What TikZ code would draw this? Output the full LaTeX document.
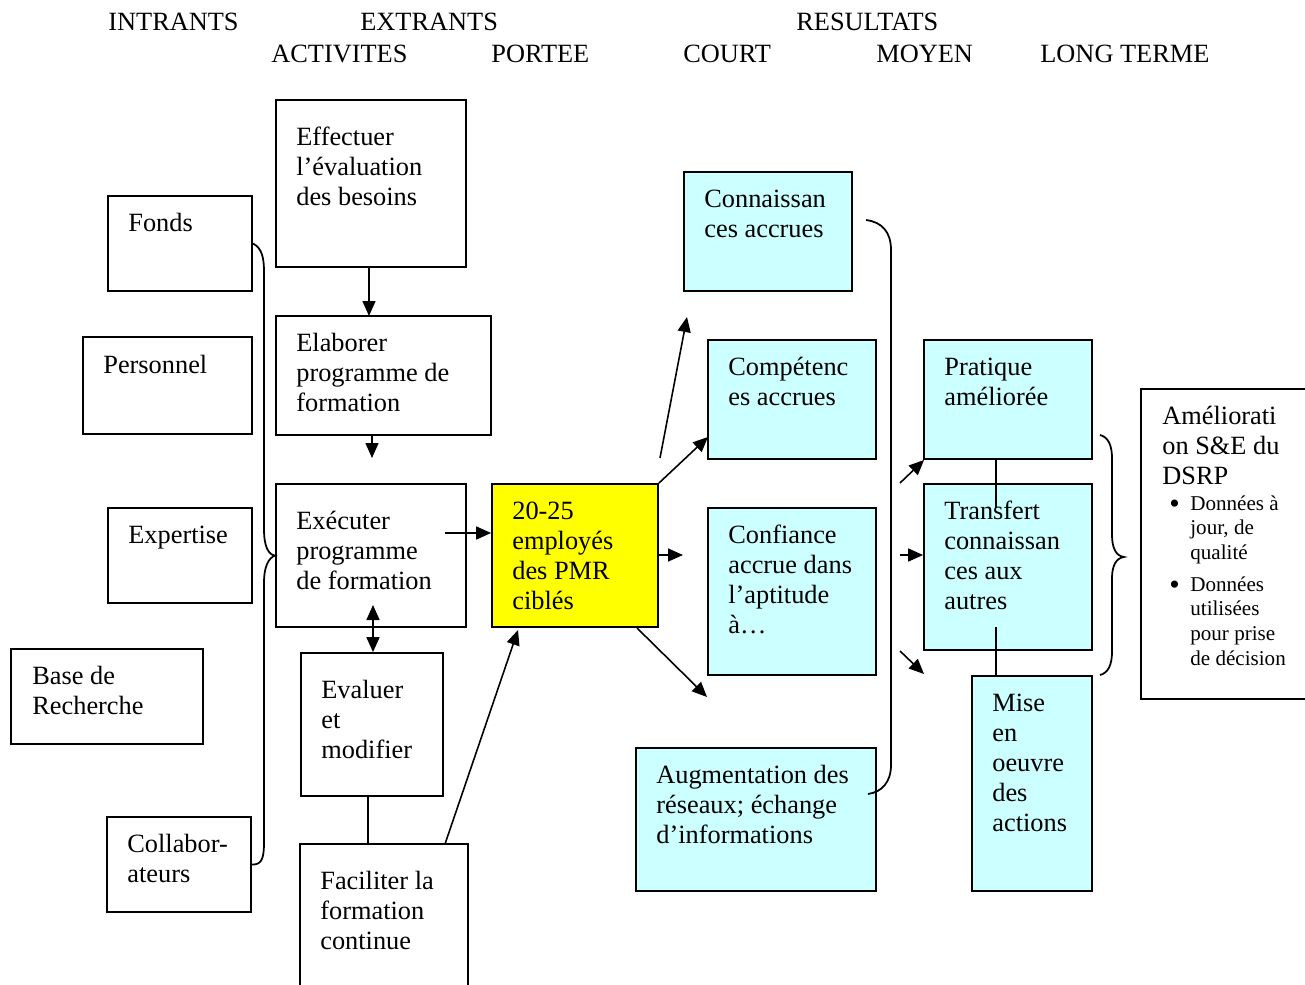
\documentclass[tikz,border=0pt]{standalone}
\usepackage{fontspec}
\setmainfont{Liberation Serif}
\usetikzlibrary{arrows.meta,fit}
\definecolor{paleblue}{HTML}{CCFFFF}
\definecolor{brightyellow}{HTML}{FFFF00}
\newcommand{\txtlines}[1]{\begin{tabular}[t]{@{}l@{}}#1\end{tabular}}
\tikzset{
  box/.style={draw=black,line width=1pt,inner sep=0pt,rectangle},
  res/.style={box,fill=paleblue},
  txt/.style={anchor=base west,inner sep=0pt,font=\fontsize{15}{17.2}\selectfont},
  small/.style={anchor=base west,inner sep=0pt,font=\fontsize{12}{14.2}\selectfont},
  arr/.style={-{Triangle[length=0.3cm,width=0.26cm]},line width=0.9pt},
  arrs/.style={{Triangle[length=0.3cm,width=0.26cm]}-{Triangle[length=0.3cm,width=0.26cm]},line width=0.9pt},
  brace/.style={line width=1pt},
}
\begin{document}
\begin{tikzpicture}[x=0.02cm,y=-0.02cm]
\useasboundingbox (0,0) rectangle (1305,984);
\clip (0,0) rectangle (1305,984);
% en-tetes
\node (hIntr) [txt] at (108,30) {INTRANTS};
\node (hExtr) [txt] at (360,30) {EXTRANTS};
\node (hRes) [txt] at (796,30) {RESULTATS};
\node (hAct) [txt] at (271,62) {ACTIVITES};
\node (hPort) [txt] at (491,62) {PORTEE};
\node (hCourt) [txt] at (683,62) {COURT};
\node (hMoyen) [txt] at (876,62) {MOYEN};
\node (hLong) [txt] at (1040,62) {LONG TERME};
%
% intrants
\node (fonds) [box,fit={(108,196) (252,291)}] {};
\node (personnel) [box,fit={(83,337) (252,434)}] {};
\node (expertise) [box,fit={(108,508) (252,603)}] {};
\node (base) [box,fit={(11,649) (203,744)}] {};
\node (collab) [box,fit={(107,817) (251,912)}] {};
\node (fondsT) [txt] at (128,231) {Fonds};
\node (personnelT) [txt] at (103,373) {Personnel};
\node (expertiseT) [txt] at (128,543) {Expertise};
\node (baseT) [txt] at (32,684) {\txtlines{Base de\\Recherche}};
\node (collabT) [txt] at (127,852) {\txtlines{Collabor-\\ateurs}};
%
% activites
\node (effectuer) [box,fit={(276,100) (466,267)}] {};
\node (elaborer) [box,fit={(276,316) (491,435)}] {};
\node (executer) [box,fit={(276,484) (466,627)}] {};
\node (evaluer) [box,fit={(301,653) (443,796)}] {};
\node (faciliter) [box,fit={(300,844) (468,1010)}] {};
\node (effectuerT) [txt] at (296,145) {\txtlines{Effectuer\\l’évaluation\\des besoins}};
\node (elaborerT) [txt] at (296,351) {\txtlines{Elaborer\\programme de\\formation}};
\node (executerT) [txt] at (296,529) {\txtlines{Exécuter\\programme\\de formation}};
\node (evaluerT) [txt] at (321,698) {\txtlines{Evaluer\\et\\modifier}};
\node (faciliterT) [txt] at (320,889) {\txtlines{Faciliter la\\formation\\continue}};
%
% portee
\node (cible) [box,fill=brightyellow,fit={(492,484) (658,627)}] {};
\node (cibleT) [txt] at (512,519) {\txtlines{20-25\\employés\\des PMR\\ciblés}};
%
% resultats court terme
\node (connais) [res,fit={(684,172) (852,291)}] {};
\node (compet) [res,fit={(708,340) (876,459)}] {};
\node (confiance) [res,fit={(708,508) (876,675)}] {};
\node (reseaux) [res,fit={(636,748) (876,891)}] {};
\node (connaisT) [txt] at (704,207) {\txtlines{Connaissan\\ces accrues}};
\node (competT) [txt] at (728,375) {\txtlines{Compétenc\\es accrues}};
\node (confianceT) [txt] at (728,543) {\txtlines{Confiance\\accrue dans\\l’aptitude\\à…}};
\node (reseauxT) [txt] at (656,783) {\txtlines{Augmentation des\\réseaux; échange\\d’informations}};
%
% resultats moyen terme
\node (pratique) [res,fit={(924,340) (1092,459)}] {};
\node (transfert) [res,fit={(924,484) (1092,650)}] {};
\node (mise) [res,fit={(972,676) (1092,891)}] {};
\node (pratiqueT) [txt] at (944,375) {\txtlines{Pratique\\améliorée}};
\node (transfertT) [txt] at (944,519) {\txtlines{Transfert\\connaissan\\ces aux\\autres}};
\node (miseT) [txt] at (992,711) {\txtlines{Mise\\en\\oeuvre\\des\\actions}};
%
% long terme
\node (amelio) [box,fit={(1141,389) (1330,699)}] {};
\node (amelioT) [txt] at (1162,424) {\txtlines{Améliorati\\on S\&E du\\DSRP}};
\node (dot1) [small,font=\fontsize{17}{17}\selectfont] at (1169,513) {•};
\node (item1) [small] at (1190,510) {\txtlines{Données à\\jour, de\\qualité}};
\node (dot2) [small,font=\fontsize{17}{17}\selectfont] at (1169,594) {•};
\node (item2) [small] at (1190,591) {\txtlines{Données\\utilisées\\pour prise\\de décision}};
%
% connecteurs
\coordinate (e1) at (372,458);
\coordinate (e2) at (373,605);
\coordinate (x1) at (445,533);
\coordinate (f1) at (445,844);
\coordinate (c1) at (518,630);
\coordinate (u0) at (660,458);
\coordinate (u1) at (687,317);
\coordinate (k1) at (708,437);
\coordinate (r1) at (683,555);
\coordinate (d0) at (637,628);
\coordinate (d1) at (707,697);
\coordinate (m0) at (900,483);
\coordinate (m1) at (924,460);
\coordinate (m2) at (900,555);
\coordinate (m3) at (900,651);
\coordinate (m4) at (924,674);
\coordinate (p1) at (996,508);
\coordinate (p2) at (996,627);
%
\draw[arr] (effectuer.south -| 369,0) -- (369,316);
\draw[arr] (elaborer.south -| e1) -- (e1);
\draw[arrs] (e2) -- (evaluer.north -| e2);
\draw[line width=0.9pt] (evaluer.south -| 368,0) -- (faciliter.north -| 368,0);
\draw[arr] (x1) -- (x1 -| cible.west);
\draw[arr] (f1) -- (c1);
\draw[arr] (u0) -- (u1);
\draw[arr] (cible.north east) -- (k1);
\draw[arr] (r1 -| cible.east) -- (r1);
\draw[arr] (d0) -- (d1);
\draw[arr] (m0) -- (m1);
\draw[arr] (m2) -- (m2 -| transfert.west);
\draw[arr] (m3) -- (m4);
\draw[line width=0.9pt] (pratique.south -| p1) -- (p1);
\draw[line width=0.9pt] (p2) -- (p2 |- mise.north);
%
% accolades
\draw[brace] (fonds.east) .. controls (262,248) and (264,258) .. (264,272) -- (264,530)
  .. controls (264,545) and (268,555) .. (executer.west)
  .. controls (268,558) and (264,568) .. (264,582) -- (264,842)
  .. controls (264,858) and (262,865) .. (collab.east);
\draw[brace] (866,220) .. controls (882,222) and (891,232) .. (891,250) -- (891,765)
  .. controls (891,782) and (882,792) .. (868,794);
\draw[brace] (1100,435) .. controls (1108,437) and (1112,445) .. (1112,458) -- (1112,535)
  .. controls (1112,548) and (1116,556) .. (1124,557)
  .. controls (1116,558) and (1112,566) .. (1112,578) -- (1112,652)
  .. controls (1112,665) and (1108,673) .. (1100,675);
\end{tikzpicture}
\end{document}
